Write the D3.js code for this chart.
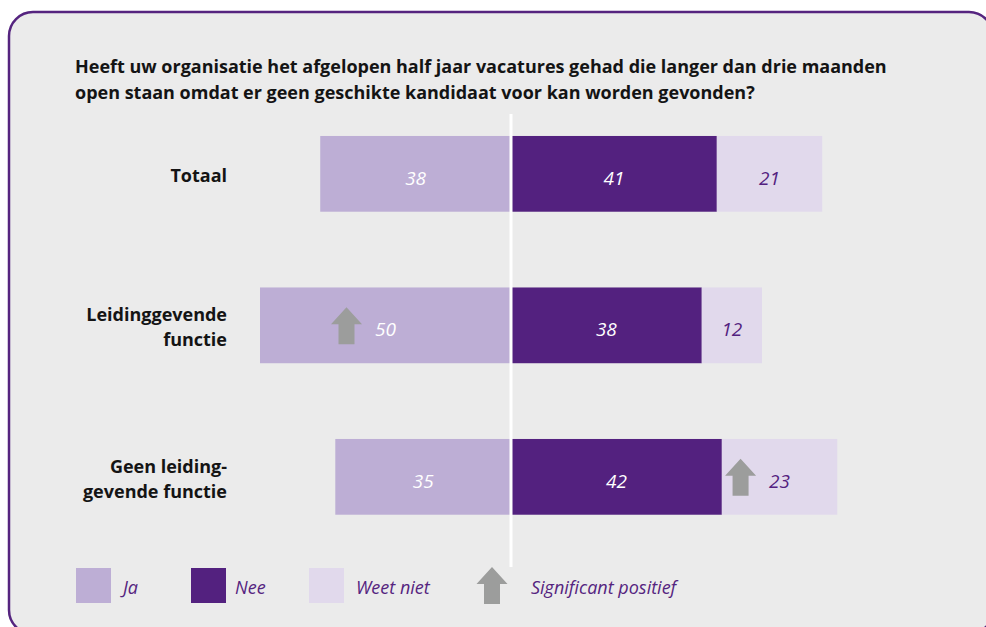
<!DOCTYPE html>
<html>
<head>
<meta charset="utf-8">
<script src="https://cdn.jsdelivr.net/npm/d3@7"></script>
<style>
  body { margin: 0; background: #fff; }
  svg { display: block; }
</style>
</head>
<body>
<div id="chart"></div>
<script>
// data
const titleLines = [
    'Heeft uw organisatie het afgelopen half jaar vacatures gehad die langer dan drie maanden',
    'open staan omdat er geen geschikte kandidaat voor kan worden gevonden?'
];
const categories = ['Totaal', 'Leidinggevende functie', 'Geen leiding-gevende functie'];
const categoryLines = [['Totaal'], ['Leidinggevende', 'functie'], ['Geen leiding-', 'gevende functie']];
const series = ['Ja', 'Nee', 'Weet niet'];
const ja = [38, 50, 35];
const nee = [41, 38, 42];
const weetNiet = [21, 12, 23];
// significant positive marks: [category index, series]
const significant = [[1, 'Ja'], [2, 'Weet niet']];
const legendLabels = ['Ja', 'Nee', 'Weet niet', 'Significant positief'];

const W = 986, H = 627;
const colors = { 'Ja': '#bdaed5', 'Nee': '#53217f', 'Weet niet': '#e1d9ec' };
const textColors = { 'Ja': '#ffffff', 'Nee': '#ffffff', 'Weet niet': '#53217f' };
const purple = '#55247f';
const arrowGrey = '#9c9d9c';

const svg = d3.select('#chart').append('svg')
    .attr('width', W)
    .attr('height', H);

// panel
svg.append('rect')
    .attr('x', 9).attr('y', 12)
    .attr('width', 984).attr('height', 622)
    .attr('rx', 24).attr('ry', 24)
    .attr('fill', '#ebebeb')
    .attr('stroke', purple)
    .attr('stroke-width', 2.5);

// title, scaled to fill the same width as the reference
const title = svg.append('g');
title.selectAll('text')
    .data(titleLines)
    .enter()
    .append('text')
    .attr('x', 75)
    .attr('y', (d, i) => 73 + i * 26)
    .text(d => d)
    .attr('font-family', '"Open Sans", sans-serif')
    .attr('font-weight', 'bold')
    .attr('font-size', '18px')
    .attr('fill', '#141414');
const firstLen = title.select('text').node().getComputedTextLength();
title.selectAll('text').attr('font-size', (18 * 812 / firstLen).toFixed(2) + 'px');

const x = d3.scaleLinear()
    .domain([-50, 70])
    .range([511 - 251, 511 + 351.4]);

const y = d3.scaleBand()
    .domain(categories)
    .range([98.1, 552.6])
    .paddingInner(0.5)
    .paddingOuter(0.25);

// stacked segments: Ja to the left of zero, Nee and Weet niet to the right
const segments = [];
categories.forEach((c, i) => {
    segments.push({ cat: c, i: i, key: 'Ja', value: ja[i], x0: -ja[i], x1: 0 });
    segments.push({ cat: c, i: i, key: 'Nee', value: nee[i], x0: 0, x1: nee[i] });
    segments.push({ cat: c, i: i, key: 'Weet niet', value: weetNiet[i], x0: nee[i], x1: nee[i] + weetNiet[i] });
});

svg.append('g').selectAll('rect')
    .data(segments)
    .enter()
    .append('rect')
    .attr('x', d => x(d.x0))
    .attr('y', d => y(d.cat))
    .attr('width', d => x(d.x1) - x(d.x0))
    .attr('height', y.bandwidth())
    .attr('fill', d => colors[d.key]);

// zero line
svg.append('line')
    .attr('x1', x(0)).attr('x2', x(0))
    .attr('y1', 114).attr('y2', 567)
    .attr('stroke', '#ffffff')
    .attr('stroke-width', 3);

// value labels
svg.append('g').selectAll('text')
    .data(segments)
    .enter()
    .append('text')
    .attr('x', d => (x(d.x0) + x(d.x1)) / 2)
    .attr('y', d => y(d.cat) + y.bandwidth() / 2 + 11)
    .attr('text-anchor', 'middle')
    .attr('font-family', '"Open Sans", sans-serif')
    .attr('font-style', 'italic')
    .attr('font-size', '19px')
    .attr('fill', d => textColors[d.key])
    .text(d => d.value);

// up arrow, centred on (cx, cy)
function arrowPath(cx, cy) {
    return `M${cx},${cy - 18} L${cx + 15.5},${cy - 1} L${cx + 8},${cy - 1} L${cx + 8},${cy + 19}` +
        ` L${cx - 8},${cy + 19} L${cx - 8},${cy - 1} L${cx - 15.5},${cy - 1} Z`;
}

svg.append('g').selectAll('path')
    .data(significant)
    .enter()
    .append('path')
    .attr('d', d => {
        const seg = segments.find(s => s.i === d[0] && s.key === d[1]);
        const cx = (x(seg.x0) + x(seg.x1)) / 2 - 39;
        return arrowPath(cx, y(seg.cat) + y.bandwidth() / 2);
    })
    .attr('fill', arrowGrey);

// category labels
const catG = svg.append('g').selectAll('text')
    .data(categoryLines)
    .enter()
    .append('text')
    .attr('text-anchor', 'end')
    .attr('font-family', '"Open Sans", sans-serif')
    .attr('font-weight', 'bold')
    .attr('font-size', '18px')
    .attr('fill', '#141414');
catG.selectAll('tspan')
    .data((d, i) => d.map((t, j) => ({ t: t, j: j, n: d.length, cat: categories[i] })))
    .enter()
    .append('tspan')
    .attr('x', 227)
    .attr('y', d => y(d.cat) + y.bandwidth() / 2 + 8.5 + (d.j - (d.n - 1) / 2) * 25)
    .text(d => d.t);

// legend
const legendX = [76, 191, 309, 477];
const legendTextX = [123, 235, 356, 531];
const legend = svg.append('g');
legend.selectAll('rect')
    .data(series)
    .enter()
    .append('rect')
    .attr('x', (d, i) => legendX[i])
    .attr('y', 568)
    .attr('width', 35)
    .attr('height', 35)
    .attr('fill', d => colors[d]);
legend.append('path')
    .attr('d', arrowPath(legendX[3] + 15, 585))
    .attr('fill', arrowGrey);
legend.selectAll('text')
    .data(legendLabels)
    .enter()
    .append('text')
    .attr('x', (d, i) => legendTextX[i])
    .attr('y', 594)
    .attr('font-family', '"Open Sans", sans-serif')
    .attr('font-style', 'italic')
    .attr('font-size', '18px')
    .attr('fill', purple)
    .text(d => d);
</script>
</body>
</html>
